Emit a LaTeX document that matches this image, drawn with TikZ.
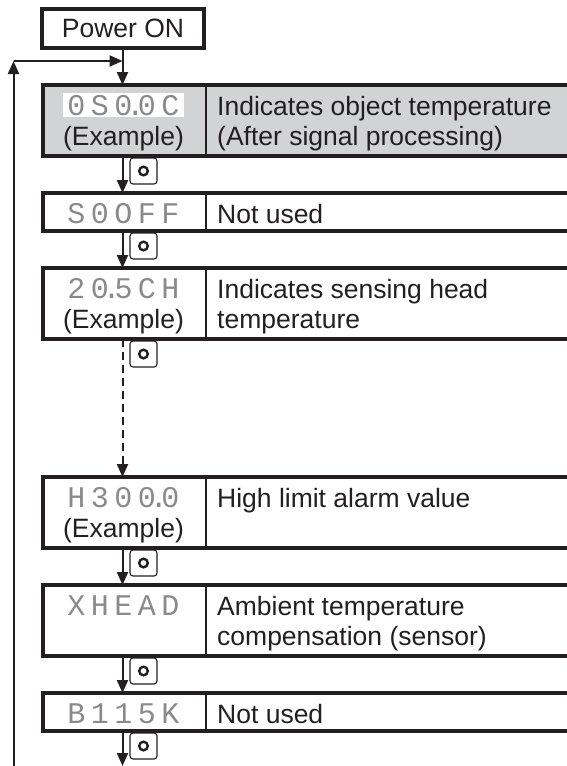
\documentclass[tikz,border=0pt]{standalone}
\usepackage{fontspec}
\setmainfont{Liberation Sans}
\newfontfamily\segfont{Liberation Mono}
\usetikzlibrary{arrows.meta}
\definecolor{ink}{HTML}{231F20}
\definecolor{panelgray}{HTML}{D1D3D4}
\definecolor{seggray}{HTML}{8A8A8C}
\newcommand{\lblfont}{\fontsize{26.5}{30}\selectfont}
\newcommand{\dispfont}{\segfont\fontsize{30}{30}\selectfont}
\newcommand{\dg}[1]{\makebox[23.5pt]{#1}}
\newcommand{\dt}{\makebox[0pt]{.}}

\begin{document}
\begin{tikzpicture}[x=1pt, y=-1pt,
    row/.style={draw=ink, line width=3.2pt, minimum width=540pt, inner sep=0pt, outer sep=0pt, anchor=north west},
    shortrow/.style={row, minimum height=38pt},
    tallrow/.style={row, minimum height=71pt},
    info/.style={anchor=north west, inner sep=0pt, align=left, text=ink, font=\lblfont},
    example/.style={anchor=base, inner sep=0pt, text=ink, font=\lblfont},
    display/.style={anchor=base, inner sep=0pt, text=seggray, font=\dispfont},
    divider/.style={draw=ink, line width=2pt},
    flow/.style={draw=ink, line width=2pt, -{Triangle[length=13pt,width=11pt]}},
    key/.style={draw=ink, line width=1.1pt, rounded corners=3pt, minimum width=27pt, minimum height=26pt, inner sep=0pt,
        path picture={\draw[ink, line width=2.4pt] (path picture bounding box.center) circle (4.3pt);}}]
        \useasboundingbox (0,0) rectangle (567,766);
        \clip (0,0) rectangle (567,766);
        \coordinate (px) at (122.5,0);
        \coordinate (dv) at (206,0);
        \node[draw=ink, line width=3.3pt, minimum width=162pt, minimum height=39pt, inner sep=0pt, outer sep=0pt,
            font=\lblfont, text=ink] (pwr) at (123,28.5) {Power ON};
        \node[tallrow, fill=panelgray] (r1) at (43,85) {};
        \node[shortrow] (r2) at (43,193) {};
        \node[tallrow] (r3) at (43,268) {};
        \node[tallrow] (r4) at (43,477) {};
        \node[tallrow] (r5) at (43,585) {};
        \node[shortrow] (r6) at (43,693) {};
        \foreach \r in {r1,r2,r3,r4,r5,r6}
        \draw[divider] (\r.north -| dv) -- (\r.south -| dv);
        \node[display, fill=white, text height=22pt, text depth=2pt, minimum width=121pt] (d1) at (123.5,115) {\dg0\dg S\dg0\dt\dg0\dg C};
        \node[display] (d2) at (123.5,223) {\dg S\dg0\dg O\dg F\dg F};
        \node[display] (d3) at (123.5,298) {\dg2\dg0\dt\dg5\dg C\dg H};
        \node[display] (d4) at (123.5,507) {\dg H\dg3\dg0\dg0\dt\dg0};
        \node[display] (d5) at (123.5,615) {\dg X\dg H\dg E\dg A\dg D};
        \node[display] (d6) at (123.5,723) {\dg B\dg1\dg1\dg5\dg K};
        \node[example] (e1) at (123.5,145) {(Example)};
        \node[example] (e3) at (123.5,328) {(Example)};
        \node[example] (e4) at (123.5,537) {(Example)};
        \node[info] (t1) at (217,96) {Indicates object temperature\\(After signal processing)};
        \node[info] (t2) at (217,204) {Not used};
        \node[info] (t3) at (217,279) {Indicates sensing head\\temperature};
        \node[info] (t4) at (217,488) {High limit alarm value};
        \node[info] (t5) at (217,596) {Ambient temperature\\compensation (sensor)};
        \node[info] (t6) at (217,704) {Not used};
        \node[key] (k1) at (143.5,171) {};
        \node[key] (k2) at (143.5,246) {};
        \node[key] (k3) at (143.5,354) {};
        \node[key] (k4) at (143.5,563) {};
        \node[key] (k5) at (143.5,671) {};
        \node[key] (k6) at (143.5,746) {};
        \coordinate (loopb) at (13.5,766);
        \coordinate (loopc) at (13.5,61);
        \coordinate (loopj) at (122.5,61);
        \coordinate (tail) at (122.5,766);
        \draw[flow] (pwr.south -| px) -- (r1.north -| px);
        \draw[flow] (loopb) -- (loopc);
        \draw[flow] (loopc) -- (loopj);
        \draw[flow] (r1.south -| px) -- (r2.north -| px);
        \draw[flow] (r2.south -| px) -- (r3.north -| px);
        \draw[flow, dash pattern=on 8pt off 5pt] (r3.south -| px) -- (r4.north -| px);
        \draw[flow] (r4.south -| px) -- (r5.north -| px);
        \draw[flow] (r5.south -| px) -- (r6.north -| px);
        \draw[flow] (r6.south -| px) -- (tail);
\end{tikzpicture}
\end{document}
